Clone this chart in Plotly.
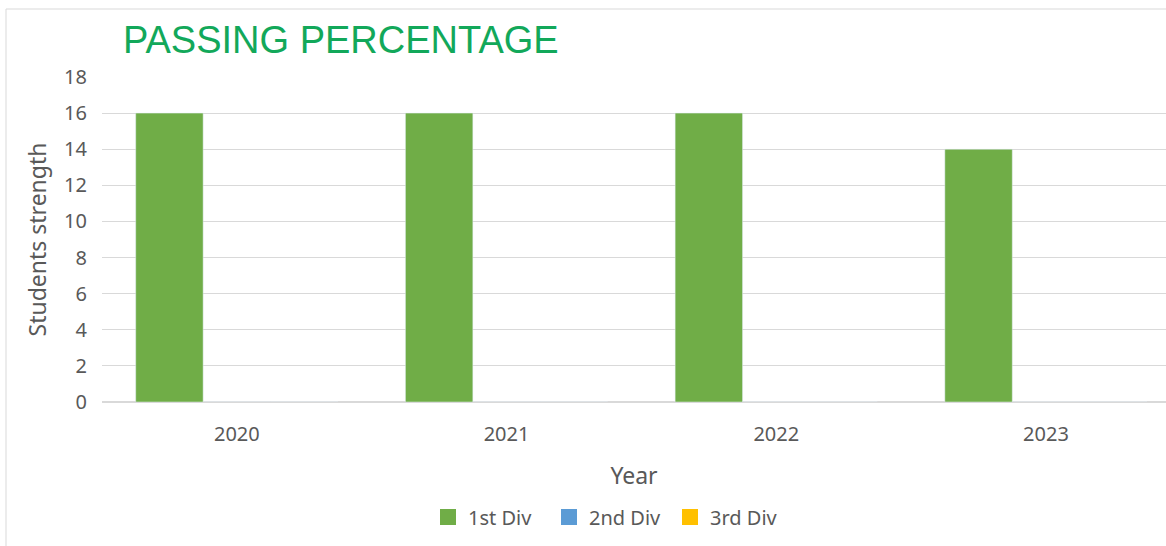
import plotly.graph_objects as go

years = ["2020", "2021", "2022", "2023"]
first_div = [16, 16, 16, 14]
second_div = [0, 0, 0, 0]
third_div = [0, 0, 0, 0]
y_ticks = [0, 2, 4, 6, 8, 10, 12, 14, 16, 18]
series_names = ["1st Div", "2nd Div", "3rd Div"]
series_colors = ["#70AD47", "#5B9BD5", "#FFC000"]
series_values = [first_div, second_div, third_div]

font_main = "Segoe UI, Noto Sans, Open Sans, sans-serif"
grey = "#595959"

fig = go.Figure()
for name, vals, col in zip(series_names, series_values, series_colors):
    fig.add_trace(go.Bar(name=name, x=years, y=vals, marker_color=col,
                         showlegend=False, legendgroup=name))
for name, col in zip(series_names, series_colors):
    fig.add_trace(go.Scatter(name=name, x=[None], y=[None], mode="markers",
                             marker=dict(symbol="square", size=16, color=col),
                             legendgroup=name, showlegend=True))

fig.update_layout(
    width=1166, height=546,
    margin=dict(l=102, r=0, t=77, b=144),
    paper_bgcolor="white", plot_bgcolor="white",
    barmode="group", bargap=0.25, bargroupgap=0,
    font=dict(family=font_main, color=grey, size=20),
    title=dict(text="PASSING PERCENTAGE", x=123/1166, xanchor="left",
               y=1-40/546, yanchor="middle",
               font=dict(family="Liberation Sans, Arial, sans-serif", size=38, color="#12A85A")),
    showlegend=True,
    legend=dict(orientation="h", x=(428-102)/1064, xanchor="left", y=-0.354, yanchor="middle",
                font=dict(size=20, color=grey), traceorder="normal",
                itemwidth=30, entrywidth=76, entrywidthmode="pixels"),
    xaxis=dict(range=[-0.5, 3.445], showgrid=False, showline=True, linecolor="#D9D9D9",
               ticks="outside", ticklen=14, tickcolor="rgba(0,0,0,0)",
               tickfont=dict(size=20, color=grey),
               title=dict(text="Year", font=dict(size=23, color=grey), standoff=21)),
    yaxis=dict(range=[0, 18], tickvals=y_ticks, showgrid=True, gridcolor="#D9D9D9",
               zeroline=True, zerolinecolor="#D9D9D9",
               ticks="outside", ticklen=10, tickcolor="rgba(0,0,0,0)",
               tickfont=dict(size=20, color=grey),
               title=dict(text="Students strength", font=dict(size=23, color=grey), standoff=11)),
)

# chart border (left and top edges visible)
fig.add_shape(type="line", xref="paper", yref="paper",
              x0=(6-102)/1064, x1=(6-102)/1064, y0=(402-546)/325, y1=(402-9)/325,
              line=dict(color="#D9D9D9", width=1))
fig.add_shape(type="line", xref="paper", yref="paper",
              x0=(6-102)/1064, x1=1.0, y0=(402-9)/325, y1=(402-9)/325,
              line=dict(color="#D9D9D9", width=1))

fig.write_html("out.html", config={"displayModeBar": False},
               post_script="document.body.style.margin='0';document.body.style.overflow='hidden';")
